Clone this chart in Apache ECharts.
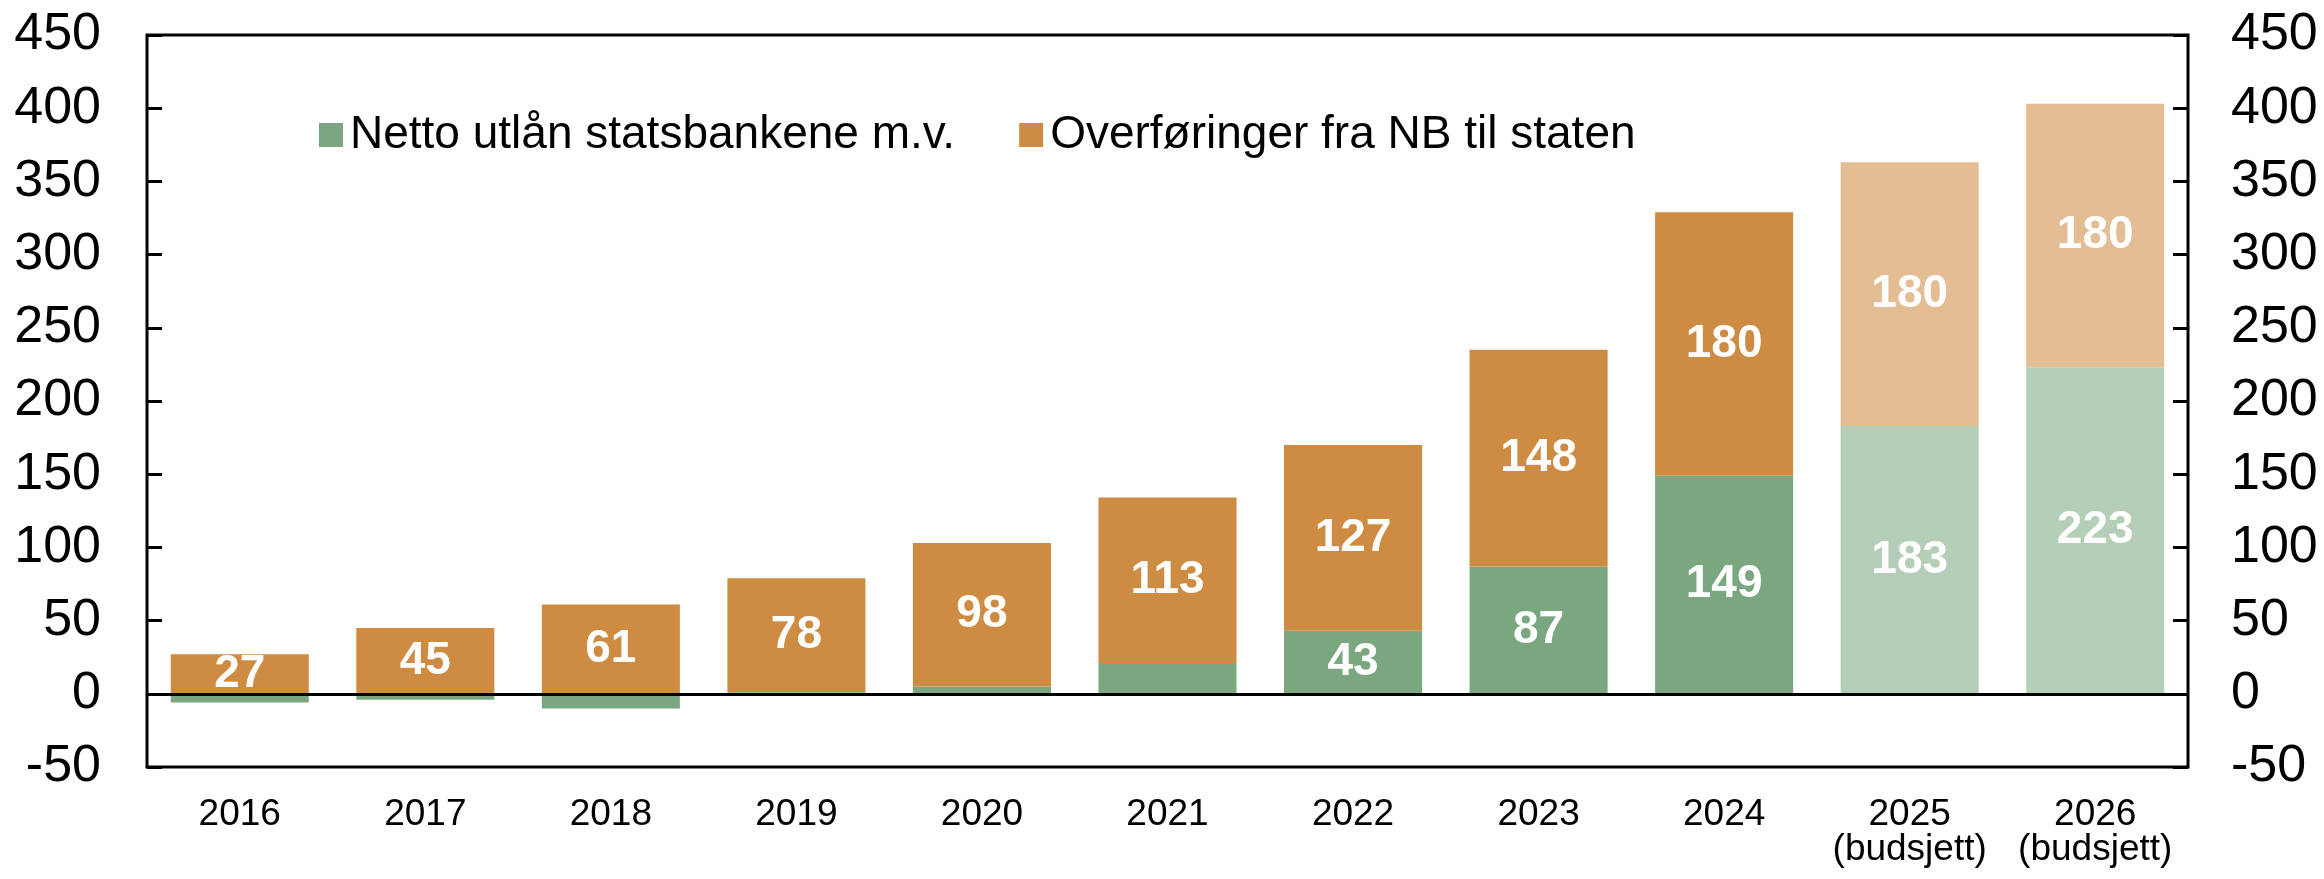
<!DOCTYPE html>
<html>
<head>
<meta charset="utf-8">
<script src="https://cdn.jsdelivr.net/npm/echarts@6/dist/echarts.min.js"></script>
<style>
  html, body { margin: 0; padding: 0; background: #fff; }
  #chart { width: 2324px; height: 879px; }
</style>
</head>
<body>
<div id="chart"></div>
<script>
const categories = ['2016', '2017', '2018', '2019', '2020', '2021', '2022', '2023', '2024', '2025\n(budsjett)', '2026\n(budsjett)'];
const nettoUtlan = [-6, -4, -10, 1, 5, 21, 43, 87, 149, 183, 223];
const overforinger = [27, 45, 61, 78, 98, 113, 127, 148, 180, 180, 180];
const budgetFlags = [false, false, false, false, false, false, false, false, false, true, true];
const yTicks = { min: -50, max: 450, interval: 50 };
const greenLabelMin = 30;

const GREEN = '#7AA77F', GREEN_LIGHT = '#B4CEB7';
const ORANGE = '#CE8B42', ORANGE_LIGHT = '#E3BE94';
const FONT = '"Liberation Sans", Arial, sans-serif';

const chart = echarts.init(document.getElementById('chart'), null, { renderer: 'canvas' });

const greenData = nettoUtlan.map((v, i) => ({ value: v, itemStyle: { color: budgetFlags[i] ? GREEN_LIGHT : GREEN } }));
const orangeData = overforinger.map((v, i) => ({ value: v, itemStyle: { color: budgetFlags[i] ? ORANGE_LIGHT : ORANGE } }));

const labelBase = {
  show: true,
  position: 'inside',
  color: '#fff',
  fontFamily: FONT,
  fontWeight: 'bold',
  fontSize: 46
};

const yAxisCommon = {
  type: 'value',
  min: yTicks.min,
  max: yTicks.max,
  interval: yTicks.interval,
  splitLine: { show: false },
  axisLine: { show: false },
  axisTick: { show: true, inside: true, length: 15, lineStyle: { color: '#000', width: 3 } }
};

chart.setOption({
  animation: false,
  backgroundColor: '#fff',
  grid: {
    left: 147, right: 136, top: 35, bottom: 112,
    show: true, borderColor: '#000', borderWidth: 3, backgroundColor: 'transparent'
  },
  legend: {
    top: 107,
    left: 314,
    itemWidth: 24,
    itemHeight: 24,
    itemGap: 64,
    icon: 'rect',
    textStyle: { color: '#000', fontFamily: FONT, fontSize: 46, padding: [0, 0, 0, 2] },
    data: [
      { name: 'Netto utlån statsbankene m.v.', itemStyle: { color: GREEN } },
      { name: 'Overføringer fra NB til staten', itemStyle: { color: ORANGE } }
    ]
  },
  xAxis: {
    type: 'category',
    data: categories,
    axisLine: { show: false, onZero: false },
    axisTick: { show: false },
    axisLabel: { interval: 0, color: '#000', fontFamily: FONT, fontSize: 37, lineHeight: 35, margin: 30 }
  },
  yAxis: [
    Object.assign({}, yAxisCommon, {
      position: 'left',
      axisLabel: { color: '#000', fontFamily: FONT, fontSize: 52, margin: 46 }
    }),
    Object.assign({}, yAxisCommon, {
      position: 'right',
      axisLabel: { color: '#000', fontFamily: FONT, fontSize: 52, margin: 43 }
    })
  ],
  series: [
    {
      name: 'Netto utlån statsbankene m.v.',
      type: 'bar',
      stack: 'total',
      barCategoryGap: '25.6%',
      data: greenData,
      label: Object.assign({}, labelBase, {
        formatter: p => (p.value >= greenLabelMin ? String(p.value) : '')
      }),
      markLine: {
        silent: true,
        symbol: 'none',
        label: { show: false },
        lineStyle: { color: '#000', width: 3, type: 'solid' },
        data: [{ yAxis: 0 }]
      },
      z: 2
    },
    {
      name: 'Overføringer fra NB til staten',
      type: 'bar',
      stack: 'total',
      barCategoryGap: '25.6%',
      data: orangeData,
      label: labelBase,
      z: 2
    }
  ]
});
</script>
</body>
</html>
